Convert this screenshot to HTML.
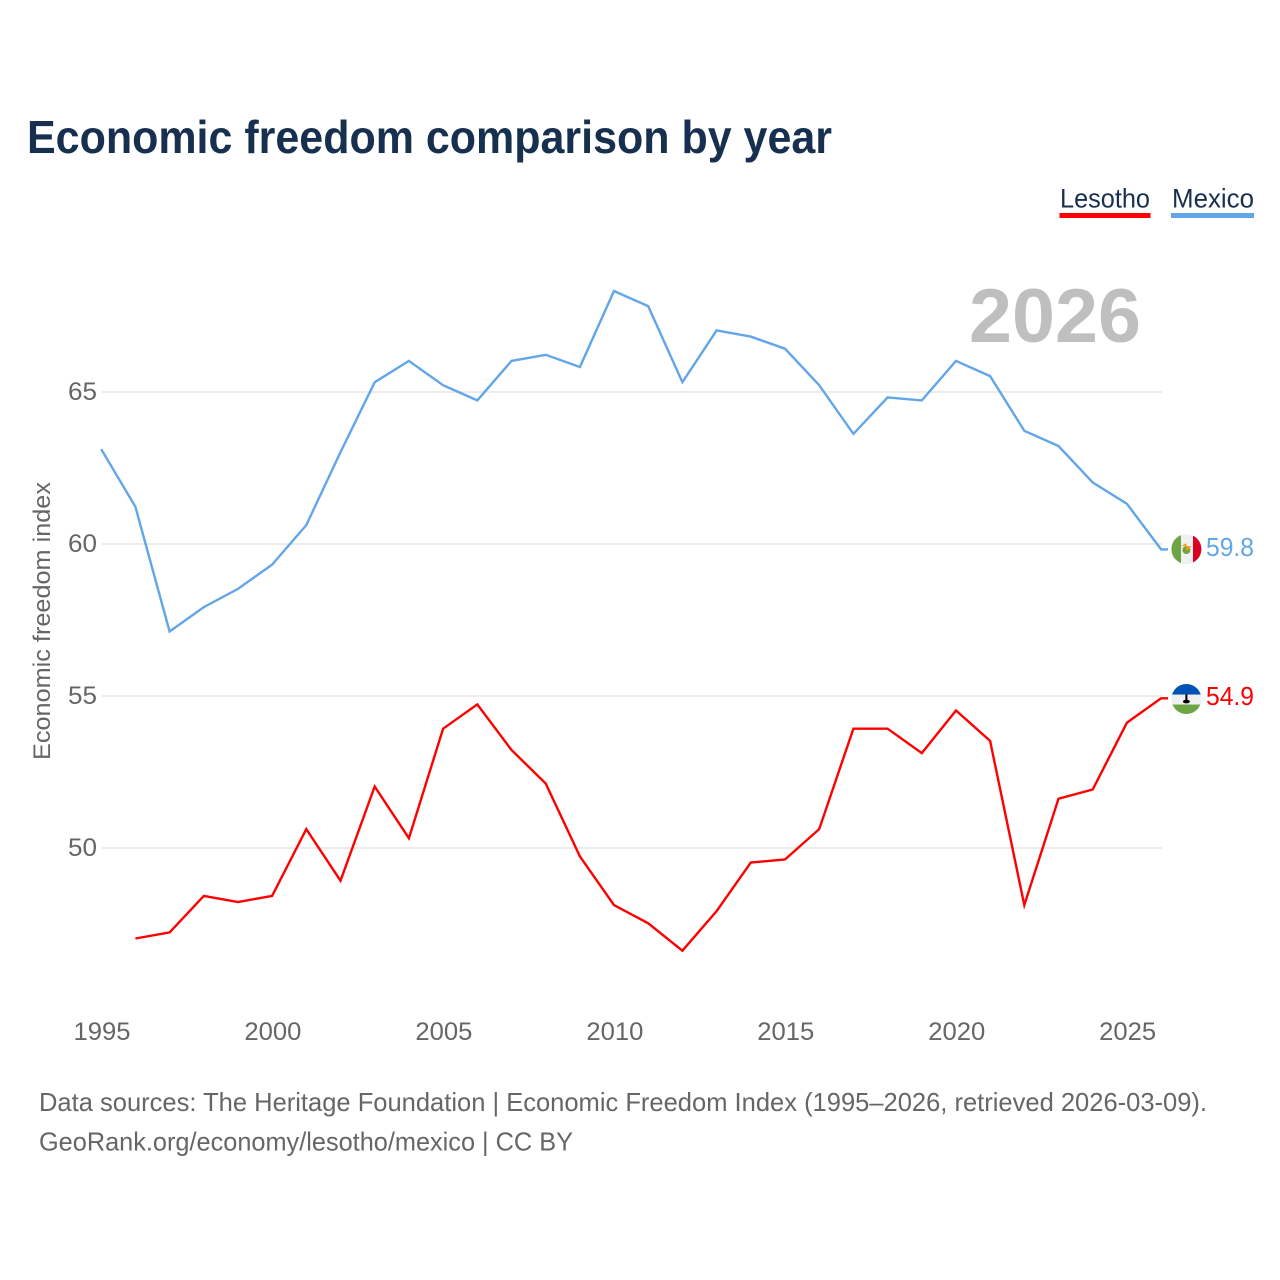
<!DOCTYPE html>
<html lang="en">
<head>
<meta charset="utf-8">
<title>Economic freedom comparison by year</title>
<style>
html,body{margin:0;padding:0;background:#fff;}
svg{display:block;font-family:"Liberation Sans",sans-serif;}
</style>
</head>
<body>
<svg id="chart" width="1280" height="1280" viewBox="0 0 1280 1280" xmlns="http://www.w3.org/2000/svg">
  <rect width="1280" height="1280" fill="#ffffff"/>
  <text x="27" y="153" font-size="46" font-weight="700" fill="#18304f" textLength="805" lengthAdjust="spacingAndGlyphs">Economic freedom comparison by year</text>

  <g>
    <g>
      <text x="1060" y="207.5" font-size="27" fill="#18304f" textLength="90" lengthAdjust="spacingAndGlyphs">Lesotho</text>
      <rect x="1059.5" y="213" width="91" height="5" fill="#ff0000"/>
    </g>
    <g>
      <text x="1172" y="207.5" font-size="27" fill="#18304f" textLength="82" lengthAdjust="spacingAndGlyphs">Mexico</text>
      <rect x="1171" y="213" width="83" height="5" fill="#62a6ea"/>
    </g>
  </g>

  <text x="969" y="342" font-size="76" font-weight="700" fill="#bfbfbf" textLength="172" lengthAdjust="spacingAndGlyphs">2026</text>

  <text transform="translate(50,621) rotate(-90)" text-anchor="middle" font-size="24" fill="#666666" textLength="278" lengthAdjust="spacingAndGlyphs">Economic freedom index</text>

  <g id="grid"></g>
  <g id="yticks"></g>
  <g id="xticks"></g>
  <g id="series" transform="translate(-0.8,-0.7)"></g>
  <g id="endmarks"></g>

  <text x="39" y="1111" font-size="26" fill="#666666" textLength="1168" lengthAdjust="spacingAndGlyphs">Data sources: The Heritage Foundation | Economic Freedom Index (1995–2026, retrieved 2026-03-09).</text>
  <text x="39" y="1150.5" font-size="26" fill="#666666" textLength="534" lengthAdjust="spacingAndGlyphs">GeoRank.org/economy/lesotho/mexico | CC BY</text>
</svg>

<script>
const years = [1995,1996,1997,1998,1999,2000,2001,2002,2003,2004,2005,2006,2007,2008,2009,2010,2011,2012,2013,2014,2015,2016,2017,2018,2019,2020,2021,2022,2023,2024,2025,2026];
const mexicoValues = [63.1,61.2,57.1,57.9,58.5,59.3,60.6,63.0,65.3,66.0,65.2,64.7,66.0,66.2,65.8,68.3,67.8,65.3,67.0,66.8,66.4,65.2,63.6,64.8,64.7,66.0,65.5,63.7,63.2,62.0,61.3,59.8];
const lesothoValues = [null,47.0,47.2,48.4,48.2,48.4,50.6,48.9,52.0,50.3,53.9,54.7,53.2,52.1,49.7,48.1,47.5,46.6,47.9,49.5,49.6,50.6,53.9,53.9,53.1,54.5,53.5,48.1,51.6,51.9,54.1,54.9];
const yTickValues = [50,55,60,65];
const xTickValues = [1995,2000,2005,2010,2015,2020,2025];

const NS = 'http://www.w3.org/2000/svg';
const xScale = function (year) { return 102 + (year - 1995) * 34.19; };
const yScale = function (value) { return 544 - (value - 60) * 30.4; };

function make(tag, parent, attrs, text) {
  const el = document.createElementNS(NS, tag);
  for (const k in attrs) el.setAttribute(k, attrs[k]);
  if (text !== undefined) el.textContent = text;
  parent.appendChild(el);
  return el;
}

const grid = document.getElementById('grid');
const yticks = document.getElementById('yticks');
yTickValues.forEach(function (v) {
  const line = make('line', grid, {x1: 102, x2: xScale(2026), y1: yScale(v), y2: yScale(v), stroke: '#ececec', 'stroke-width': 2});
  
  
  const label = make('text', yticks, {x: 68, y: yScale(v) + 8, 'font-size': 25, fill: '#666666', textLength: 29, lengthAdjust: 'spacingAndGlyphs'}, String(v));
  
  
});

const xticks = document.getElementById('xticks');
xTickValues.forEach(function (yr) {
  const label = make('text', xticks, {x: xScale(yr) - 28.5, y: 1040, 'font-size': 25, fill: '#666666', textLength: 57, lengthAdjust: 'spacingAndGlyphs'}, String(yr));
  
  
});

function linePoints(values) {
  const pts = [];
  values.forEach(function (v, i) {
    if (v !== null) pts.push(xScale(years[i]).toFixed(1) + ',' + yScale(v).toFixed(1));
  });
  return pts;
}

const seriesGroup = document.getElementById('series');
const endGroup = document.getElementById('endmarks');

function drawSeries(key, values, color) {
  const lastValue = values[values.length - 1];
  const lastX = xScale(years[years.length - 1]);
  const lastY = yScale(lastValue);
  const pts = linePoints(values);
  pts.push((lastX + 7).toFixed(1) + ',' + lastY.toFixed(1));
  const line = make('polyline', seriesGroup, {points: pts.join(' '), fill: 'none', stroke: color, 'stroke-width': 2.4, 'stroke-linejoin': 'miter'});
  
  
  const label = make('text', endGroup, {x: 1206, y: lastY + 6, 'font-size': 26, fill: color, textLength: 48, lengthAdjust: 'spacingAndGlyphs'}, lastValue.toFixed(1));
  
  
  return lastY;
}

function clip(id, cy) {
  const defs = make('defs', endGroup, {});
  const cp = make('clipPath', defs, {id: id});
  make('circle', cp, {cx: 1186.4, cy: cy, r: 15});
}

const mexicoY = drawSeries('mexico', mexicoValues, '#62a6ea');
const lesothoY = drawSeries('lesotho', lesothoValues, '#ff0000');

// Mexico flag
clip('mx-clip', mexicoY - 1);
const mxFlag = make('g', endGroup, {'clip-path': 'url(#mx-clip)'});


make('rect', mxFlag, {x: 1171, y: mexicoY - 17, width: 31, height: 32, fill: '#f0f0f0'});
make('rect', mxFlag, {x: 1171, y: mexicoY - 17, width: 10, height: 32, fill: '#6da544'});
make('rect', mxFlag, {x: 1193, y: mexicoY - 17, width: 9, height: 32, fill: '#d80027'});
make('circle', mxFlag, {cx: 1186.4, cy: mexicoY, r: 4, fill: '#6da544'});
make('polygon', mxFlag, {points: [1181,mexicoY-4,1191.8,mexicoY-4,1186.4,mexicoY+1,1186.4,mexicoY-7].join(' '), fill: '#ff9811'});

// Lesotho flag
clip('ls-clip', lesothoY);
const lsFlag = make('g', endGroup, {'clip-path': 'url(#ls-clip)'});


make('rect', lsFlag, {x: 1171, y: lesothoY - 16, width: 31, height: 32, fill: '#f0f0f0'});
make('rect', lsFlag, {x: 1171, y: lesothoY - 16, width: 31, height: 11.5, fill: '#0052b4'});
make('rect', lsFlag, {x: 1171, y: lesothoY + 5.5, width: 31, height: 10.5, fill: '#6da544'});
make('rect', lsFlag, {x: 1185.4, y: lesothoY - 4.5, width: 2, height: 7, fill: '#000000'});
make('ellipse', lsFlag, {cx: 1186.4, cy: lesothoY + 2.5, rx: 3.5, ry: 1.8, fill: '#000000'});
</script>
</body>
</html>
